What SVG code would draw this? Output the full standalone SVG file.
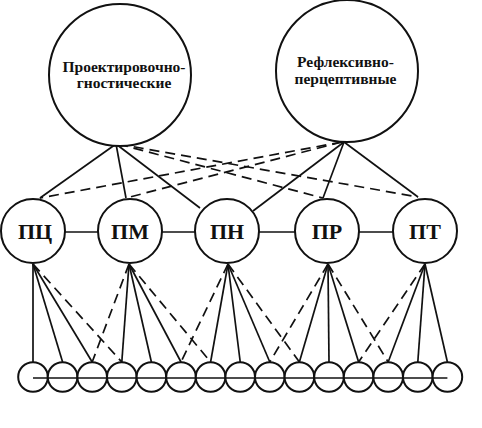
<svg xmlns="http://www.w3.org/2000/svg" width="482" height="428" viewBox="0 0 482 428">
<style>
.n{fill:#fff;stroke:#111;stroke-width:2}
.s{stroke:#111;stroke-width:1.7;fill:none}
.d{stroke:#111;stroke-width:1.7;fill:none;stroke-dasharray:10 6}
.t{font-family:"Liberation Serif",serif;font-weight:bold;fill:#111;text-anchor:middle}
.big{font-size:15.5px}
.mid{font-size:22px}
</style>
<rect width="482" height="428" fill="#fff"/>
<g id="connectors">
<line class="s" x1="116" y1="144" x2="40" y2="198"/>
<line class="s" x1="116" y1="144" x2="126" y2="198"/>
<line class="s" x1="116" y1="144" x2="200" y2="208"/>
<line class="d" x1="118" y1="144" x2="323" y2="198"/>
<line class="d" x1="118" y1="144" x2="418" y2="197"/>
<line class="s" x1="344" y1="142" x2="253" y2="211"/>
<line class="s" x1="344" y1="142" x2="323" y2="198"/>
<line class="s" x1="344" y1="142" x2="418" y2="197"/>
<line class="d" x1="342" y1="142" x2="40" y2="198"/>
<line class="d" x1="342" y1="142" x2="126" y2="198"/>
<line class="s" x1="65" y1="232" x2="98" y2="232"/>
<line class="s" x1="162" y1="232" x2="195" y2="232"/>
<line class="s" x1="259" y1="232" x2="295" y2="232"/>
<line class="s" x1="359" y1="232" x2="393" y2="232"/>
<line class="s" x1="33" y1="264" x2="33" y2="362"/>
<line class="s" x1="33" y1="264" x2="62.6" y2="362"/>
<line class="s" x1="33" y1="264" x2="92.2" y2="362"/>
<line class="d" x1="33" y1="264" x2="121.8" y2="362"/>
<line class="d" x1="129" y1="264" x2="92.2" y2="362"/>
<line class="s" x1="129" y1="264" x2="121.8" y2="362"/>
<line class="s" x1="129" y1="264" x2="151.4" y2="362"/>
<line class="s" x1="129" y1="264" x2="181" y2="362"/>
<line class="d" x1="129" y1="264" x2="210.6" y2="362"/>
<line class="d" x1="228" y1="264" x2="181" y2="362"/>
<line class="s" x1="228" y1="264" x2="210.6" y2="362"/>
<line class="s" x1="228" y1="264" x2="240.2" y2="362"/>
<line class="s" x1="228" y1="264" x2="269.8" y2="362"/>
<line class="d" x1="228" y1="264" x2="299.4" y2="362"/>
<line class="d" x1="328" y1="264" x2="269.8" y2="362"/>
<line class="s" x1="328" y1="264" x2="299.4" y2="362"/>
<line class="s" x1="328" y1="264" x2="329" y2="362"/>
<line class="s" x1="328" y1="264" x2="358.6" y2="362"/>
<line class="d" x1="328" y1="264" x2="388.2" y2="362"/>
<line class="d" x1="425" y1="264" x2="358.6" y2="362"/>
<line class="s" x1="425" y1="264" x2="388.2" y2="362"/>
<line class="s" x1="425" y1="264" x2="417.8" y2="362"/>
<line class="s" x1="425" y1="264" x2="447.4" y2="362"/>
</g>
<g id="node-pg"><circle class="n" cx="120" cy="75" r="71"/><text class="t big" x="124" y="72">Проектировочно-</text><text class="t big" x="124" y="88">гностические</text></g>
<g id="node-rp"><circle class="n" cx="347" cy="71" r="71"/><text class="t big" x="345.5" y="67">Рефлексивно-</text><text class="t big" x="345.5" y="84">перцептивные</text></g>
<g id="node-pc"><circle class="n" cx="33" cy="231" r="32"/><text class="t mid" x="35" y="239">ПЦ</text></g>
<g id="node-pm"><circle class="n" cx="130" cy="231" r="32"/><text class="t mid" x="130" y="239">ПМ</text></g>
<g id="node-pn"><circle class="n" cx="227" cy="231" r="32"/><text class="t mid" x="227" y="239">ПН</text></g>
<g id="node-pr"><circle class="n" cx="327" cy="231" r="32"/><text class="t mid" x="327" y="239">ПР</text></g>
<g id="node-pt"><circle class="n" cx="425" cy="231" r="32"/><text class="t mid" x="425" y="239">ПТ</text></g>
<g id="bottom-row">
<circle class="n" cx="33" cy="377" r="14.8"/>
<circle class="n" cx="62.6" cy="377" r="14.8"/>
<circle class="n" cx="92.2" cy="377" r="14.8"/>
<circle class="n" cx="121.8" cy="377" r="14.8"/>
<circle class="n" cx="151.4" cy="377" r="14.8"/>
<circle class="n" cx="181" cy="377" r="14.8"/>
<circle class="n" cx="210.6" cy="377" r="14.8"/>
<circle class="n" cx="240.2" cy="377" r="14.8"/>
<circle class="n" cx="269.8" cy="377" r="14.8"/>
<circle class="n" cx="299.4" cy="377" r="14.8"/>
<circle class="n" cx="329" cy="377" r="14.8"/>
<circle class="n" cx="358.6" cy="377" r="14.8"/>
<circle class="n" cx="388.2" cy="377" r="14.8"/>
<circle class="n" cx="417.8" cy="377" r="14.8"/>
<circle class="n" cx="447.4" cy="377" r="14.8"/>
<line class="s" x1="33" y1="378" x2="447.4" y2="378"/>
</g>
</svg>
